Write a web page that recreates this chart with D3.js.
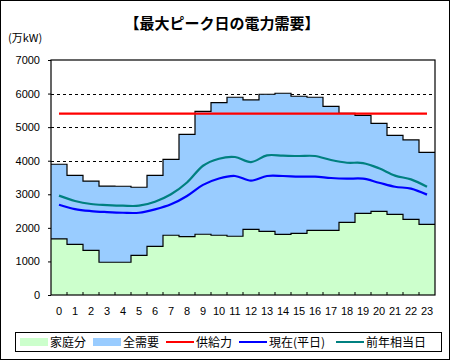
<!DOCTYPE html>
<html>
<head>
<meta charset="utf-8">
<script src="https://cdn.jsdelivr.net/npm/d3@7"></script>
<style>
  body { margin: 0; background: #fff; }
  svg text { font-family: "Noto Sans CJK JP", "DejaVu Sans", sans-serif; }
</style>
</head>
<body>
<script>
// hours and series (万kW)
var hours = d3.range(0, 24);
var household = [1670, 1510, 1330, 975, 975, 1180, 1450, 1780, 1740, 1810, 1780, 1750,
                 1955, 1895, 1805, 1835, 1925, 1925, 2165, 2430, 2490, 2400, 2255, 2105];
var totalDemand = [3895, 3565, 3395, 3245, 3240, 3210, 3565, 4040, 4785, 5470, 5730, 5890,
                   5810, 5980, 6010, 5920, 5890, 5620, 5410, 5350, 5115, 4755, 4620, 4250];
var supply = 5400;
var current = [2690, 2560, 2500, 2470, 2450, 2450, 2550, 2700, 2950, 3280, 3470, 3545,
               3405, 3545, 3545, 3525, 3525, 3485, 3465, 3465, 3345, 3225, 3170, 2990];
var lastYear = [2960, 2800, 2710, 2680, 2660, 2660, 2780, 3000, 3350, 3850, 4060, 4110,
                3960, 4160, 4150, 4140, 4140, 4020, 3940, 3930, 3775, 3555, 3445, 3225];
var yTicks = [0, 1000, 2000, 3000, 4000, 5000, 6000, 7000];
var gridTicks = [1000, 2000, 3000, 4000, 5000, 6000];

var width = 450, height = 361;
var pLeft = 51, pRight = 435, pTop = 60, pBottom = 295;

var svg = d3.select("body").append("svg")
    .attr("width", width)
    .attr("height", height);

// outer frame
svg.append("rect")
    .attr("x", 0.5).attr("y", 0.5)
    .attr("width", width - 1).attr("height", height - 2)
    .attr("fill", "#fff").attr("stroke", "#000");

var x = d3.scaleBand().domain(hours).range([pLeft, pRight]).padding(0);
var y = d3.scaleLinear().domain([0, 7000]).range([pBottom, pTop]);
var bw = x.bandwidth();
var cx = function (h) { return x(h) + bw / 2; };

// title + unit
svg.append("text")
    .attr("x", 222).attr("y", 29)
    .attr("text-anchor", "middle")
    .attr("font-size", 15).attr("font-weight", "bold")
    .text("【最大ピーク日の電力需要】");
svg.append("text")
    .attr("x", 8).attr("y", 42)
    .attr("font-size", 11)
    .text("(万kW)");

// dashed grid (behind the areas)
svg.append("g").selectAll("line")
    .data(gridTicks).enter().append("line")
    .attr("x1", pLeft).attr("x2", pRight)
    .attr("y1", function (d) { return Math.round(y(d)) + 0.5; })
    .attr("y2", function (d) { return Math.round(y(d)) + 0.5; })
    .attr("stroke", "#000").attr("stroke-dasharray", "3,3");

// step data: one point per band start plus the end of the last band
function steps(vals) {
    var pts = hours.map(function (h, i) { return [x(h), vals[i]]; });
    pts.push([pRight, vals[vals.length - 1]]);
    return pts;
}

var area = d3.area()
    .x(function (d) { return d[0]; })
    .y0(pBottom)
    .y1(function (d) { return y(d[1]); })
    .curve(d3.curveStepAfter);
var topLine = d3.line()
    .x(function (d) { return d[0]; })
    .y(function (d) { return y(d[1]); })
    .curve(d3.curveStepAfter);

svg.append("path").attr("d", area(steps(totalDemand))).attr("fill", "#99CCFF");
svg.append("path").attr("d", area(steps(household))).attr("fill", "#CCFFCC");
svg.append("path").attr("d", topLine(steps(totalDemand)))
    .attr("fill", "none").attr("stroke", "#000").attr("stroke-width", 1.2);
svg.append("path").attr("d", topLine(steps(household)))
    .attr("fill", "none").attr("stroke", "#000").attr("stroke-width", 1.2);

// smoothed lines (Excel-like)
var smooth = d3.line()
    .x(function (d, i) { return cx(hours[i]); })
    .y(function (d) { return y(d); })
    .curve(d3.curveCatmullRom.alpha(0));

svg.append("line")
    .attr("x1", cx(0)).attr("x2", cx(23))
    .attr("y1", y(supply)).attr("y2", y(supply))
    .attr("stroke", "#FF0000").attr("stroke-width", 2.2);
svg.append("path").attr("d", smooth(lastYear))
    .attr("fill", "none").attr("stroke", "#008080").attr("stroke-width", 2.2);
svg.append("path").attr("d", smooth(current))
    .attr("fill", "none").attr("stroke", "#0000FF").attr("stroke-width", 2.2);

// plot frame
svg.append("rect")
    .attr("x", pLeft).attr("y", pTop)
    .attr("width", pRight - pLeft).attr("height", pBottom - pTop)
    .attr("fill", "none").attr("stroke", "#000").attr("stroke-width", 1.2);

// y axis
var yAxis = svg.append("g")
    .attr("transform", "translate(" + pLeft + ",0)")
    .call(d3.axisLeft(y).tickValues(yTicks).tickSize(3).tickPadding(8).tickFormat(d3.format("d")));
yAxis.select(".domain").remove();
yAxis.selectAll("text").attr("font-size", 11).attr("fill", "#000")
    .style("font-family", "'Liberation Sans', Arial, sans-serif");

// x axis: labels at band centres, tick marks at band edges pointing up
var xAxis = svg.append("g")
    .attr("transform", "translate(0," + pBottom + ")")
    .call(d3.axisBottom(x).tickSize(0).tickPadding(12));
xAxis.select(".domain").remove();
xAxis.selectAll("text").attr("font-size", 11).attr("fill", "#000")
    .style("font-family", "'Liberation Sans', Arial, sans-serif");
svg.append("g").selectAll("line")
    .data(hours.slice(1)).enter().append("line")
    .attr("x1", function (h) { return x(h); })
    .attr("x2", function (h) { return x(h); })
    .attr("y1", pBottom).attr("y2", pBottom - 3)
    .attr("stroke", "#000");

// legend
var legend = svg.append("g");
legend.append("rect")
    .attr("x", 15.5).attr("y", 332.5).attr("width", 426).attr("height", 19)
    .attr("fill", "#fff").attr("stroke", "#000");
var items = [
    { label: "家庭分", x: 20, kind: "box", color: "#CCFFCC" },
    { label: "全需要", x: 93, kind: "box", color: "#99CCFF" },
    { label: "供給力", x: 166, kind: "line", color: "#FF0000" },
    { label: "現在(平日)", x: 239, kind: "line", color: "#0000FF" },
    { label: "前年相当日", x: 336, kind: "line", color: "#008080" }
];
items.forEach(function (it) {
    if (it.kind === "box") {
        legend.append("rect").attr("x", it.x).attr("y", 338)
            .attr("width", 28).attr("height", 8).attr("fill", it.color);
    } else {
        legend.append("line").attr("x1", it.x).attr("x2", it.x + 28)
            .attr("y1", 342).attr("y2", 342)
            .attr("stroke", it.color).attr("stroke-width", 2);
    }
    legend.append("text").attr("x", it.x + 30).attr("y", 347)
        .attr("font-size", 12).text(it.label);
});
</script>
</body>
</html>
